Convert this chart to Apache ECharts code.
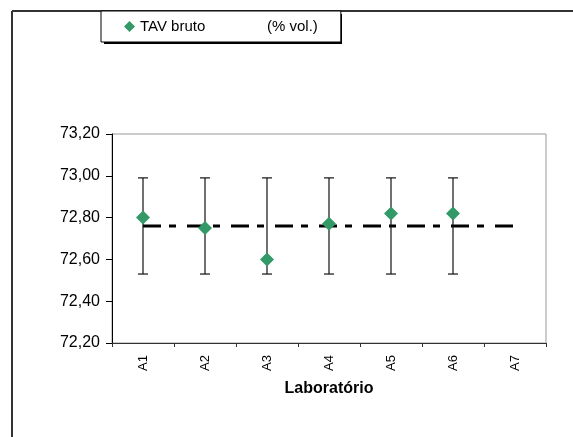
<!DOCTYPE html>
<html>
<head>
<meta charset="utf-8">
<script src="https://cdn.jsdelivr.net/npm/echarts@6/dist/echarts.min.js"></script>
<style>
  html, body { margin: 0; padding: 0; background: #fff; }
  #chart { width: 573px; height: 437px; }
</style>
</head>
<body>
<div id="chart"></div>
<script>
// Laboratories on the category axis
const labs = ['A1', 'A2', 'A3', 'A4', 'A5', 'A6', 'A7'];
// Raw alcoholic strength reported by each laboratory (% vol.)
const tavBruto = [72.80, 72.75, 72.60, 72.77, 72.82, 72.82, null];
// Uncertainty interval for each result
const errLow  = [72.53, 72.53, 72.53, 72.53, 72.53, 72.53, null];
const errHigh = [72.99, 72.99, 72.99, 72.99, 72.99, 72.99, null];
// Mean of all laboratories, drawn across the whole range
const meanLine = [72.76, 72.76, 72.76, 72.76, 72.76, 72.76, 72.76];
// Value axis range
const yMin = 72.2, yMax = 73.2, yStep = 0.2;

const FONT = '"Liberation Sans", Arial, sans-serif';

const errData = labs
  .map((lab, i) => [lab, errLow[i], errHigh[i]])
  .filter(d => d[1] != null);

const chart = echarts.init(document.getElementById('chart'), null, { renderer: 'canvas' });

chart.setOption({
  animation: false,
  backgroundColor: '#fff',
  textStyle: { fontFamily: FONT },
  graphic: [
    // outer frame: left and top edges
    { type: 'line', z: 0, shape: { x1: 12, y1: 11, x2: 12, y2: 437 },
      style: { stroke: '#333', lineWidth: 2 } },
    { type: 'line', z: 0, shape: { x1: 12, y1: 11, x2: 573, y2: 11 },
      style: { stroke: '#333', lineWidth: 2 } },
    // drop shadow under the legend box
    { type: 'rect', z: 1, shape: { x: 104, y: 14, width: 238, height: 30 },
      style: { fill: '#000' } }
  ],
  legend: {
    data: ['TAV bruto'],
    left: 101,
    top: 11,
    orient: 'horizontal',
    padding: [8, 23, 8, 23],
    backgroundColor: '#fff',
    borderColor: '#000',
    borderWidth: 1,
    itemWidth: 11,
    itemHeight: 11,
    icon: 'diamond',
    z: 5,
    formatter: name => '{a|' + name + '}{b|(% vol.)}',
    textStyle: {
      fontFamily: FONT,
      fontSize: 15,
      color: '#000',
      rich: {
        a: { width: 127, fontSize: 15, lineHeight: 14, fontFamily: FONT, color: '#000' },
        b: { fontSize: 15, lineHeight: 14, fontFamily: FONT, color: '#000' }
      }
    }
  },
  grid: {
    left: 112, top: 134, width: 434, height: 209,
    show: true, borderColor: '#999', borderWidth: 1, backgroundColor: '#fff'
  },
  xAxis: {
    type: 'category',
    data: labs,
    boundaryGap: true,
    name: 'Laboratório',
    nameLocation: 'middle',
    nameGap: 38,
    nameTextStyle: { fontFamily: FONT, fontSize: 16, fontWeight: 'bold', color: '#000' },
    axisLine: { lineStyle: { color: '#333', width: 1 } },
    axisTick: { show: true, inside: false, length: 4, alignWithLabel: false, lineStyle: { color: '#333' } },
    axisLabel: { rotate: 90, margin: 12, fontFamily: FONT, fontSize: 13, color: '#000' },
    splitLine: { show: false }
  },
  yAxis: {
    type: 'value',
    min: yMin, max: yMax, interval: yStep,
    axisLine: { show: true, lineStyle: { color: '#000', width: 1 } },
    axisTick: { show: true, inside: false, length: 6, lineStyle: { color: '#000' } },
    axisLabel: {
      margin: 12, fontFamily: FONT, fontSize: 16, color: '#000',
      formatter: v => v.toFixed(2).replace('.', ',')
    },
    splitLine: { show: false }
  },
  series: [
    {
      name: 'Média',
      type: 'line',
      data: meanLine,
      symbol: 'none',
      z: 2,
      lineStyle: { color: '#000', width: 3, type: [18, 8, 7, 11] },
      silent: true
    },
    {
      name: 'Incerteza',
      type: 'custom',
      z: 3,
      data: errData,
      encode: { x: 0, y: [1, 2] },
      renderItem: (params, api) => {
        const x = api.value(0);
        const lo = api.coord([x, api.value(1)]);
        const hi = api.coord([x, api.value(2)]);
        const half = 5;
        const style = { stroke: '#111', lineWidth: 1.2 };
        return {
          type: 'group',
          children: [
            { type: 'line', shape: { x1: lo[0], y1: lo[1], x2: hi[0], y2: hi[1] }, style },
            { type: 'line', shape: { x1: hi[0] - half, y1: hi[1], x2: hi[0] + half, y2: hi[1] }, style },
            { type: 'line', shape: { x1: lo[0] - half, y1: lo[1], x2: lo[0] + half, y2: lo[1] }, style }
          ]
        };
      }
    },
    {
      name: 'TAV bruto',
      type: 'scatter',
      data: tavBruto,
      symbol: 'diamond',
      symbolSize: 14,
      z: 4,
      itemStyle: { color: '#339966', opacity: 1 }
    }
  ]
});
</script>
</body>
</html>
